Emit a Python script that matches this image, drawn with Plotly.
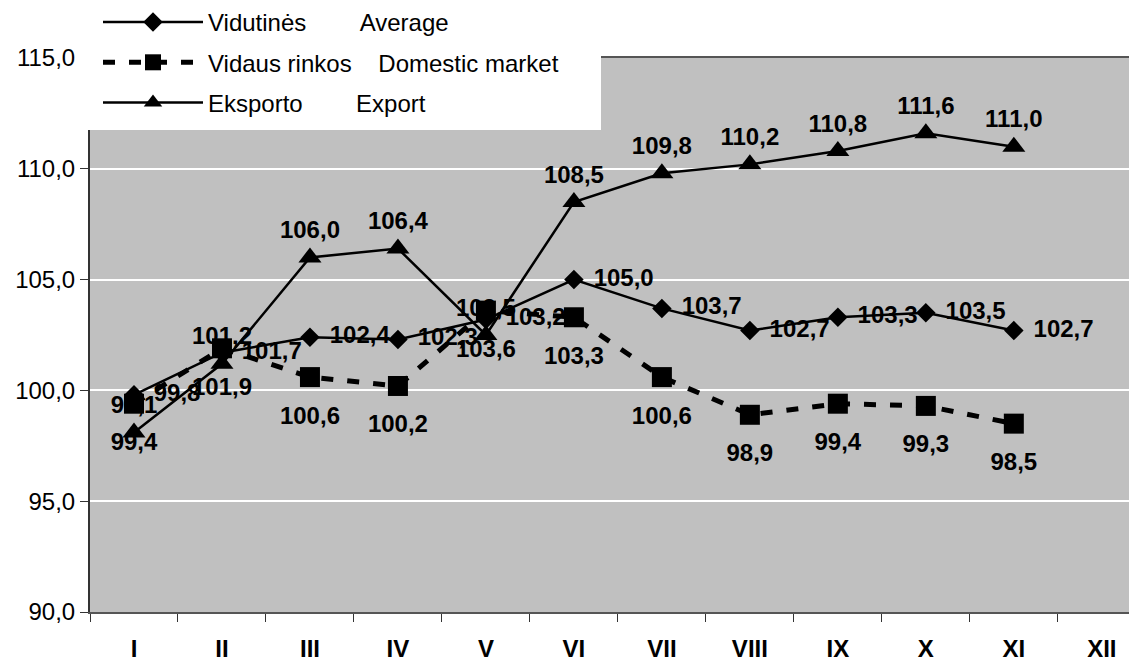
import plotly.graph_objects as go

# --- data ---
months = ["I", "II", "III", "IV", "V", "VI", "VII", "VIII", "IX", "X", "XI", "XII"]
average = [99.8, 101.7, 102.4, 102.3, 103.2, 105.0, 103.7, 102.7, 103.3, 103.5, 102.7, None]
domestic = [99.4, 101.9, 100.6, 100.2, 103.6, 103.3, 100.6, 98.9, 99.4, 99.3, 98.5, None]
export = [98.1, 101.2, 106.0, 106.4, 102.5, 108.5, 109.8, 110.2, 110.8, 111.6, 111.0, None]

FONT = "Liberation Sans, Arial, sans-serif"
NB = "\u00a0"
LABEL = dict(size=24, color="black", weight="bold")

# page body adds an 8px offset, so the figure is sized to the remaining window
W, H = 1129, 653
L, T, B = 82, 50, 49
PW, PH = W - L, H - T - B

fig = go.Figure()

# export drawn first so the other series sit on top of its labels
fig.add_trace(go.Scatter(
    x=months, y=export,
    name="Eksporto" + NB * 8 + "Export",
    mode="lines+markers+text",
    line=dict(color="black", width=2.5),
    marker=dict(symbol="triangle-up", size=20, color="black"),
    texttemplate="%{y:.1f}", textposition="top center", textfont=LABEL,
    legendrank=3, legendgroup="c",
))

fig.add_trace(go.Scatter(
    x=months, y=average,
    name="Vidutinės" + NB * 8 + "Average",
    mode="lines+markers",
    line=dict(color="black", width=2.5),
    marker=dict(symbol="diamond", size=15, color="black"),
    legendrank=1, legendgroup="a",
))
# labels of the average series, pushed a bit further right
fig.add_trace(go.Scatter(
    x=months, y=average, mode="markers+text",
    marker=dict(size=30, opacity=0),
    texttemplate="%{y:.1f}", textposition="middle right", textfont=LABEL,
    showlegend=False, hoverinfo="skip",
))

fig.add_trace(go.Scatter(
    x=months, y=domestic,
    name="Vidaus rinkos" + NB * 4 + "Domestic market",
    mode="lines+markers",
    line=dict(color="black", width=5, dash="12px,14px"),
    marker=dict(symbol="square", size=20, color="black"),
    legendrank=2, legendgroup="b",
))
# labels of the domestic series, a little lower than the default
fig.add_trace(go.Scatter(
    x=months, y=domestic, mode="markers+text",
    marker=dict(size=44, opacity=0),
    texttemplate="%{y:.1f}", textposition="bottom center", textfont=LABEL,
    showlegend=False, hoverinfo="skip",
))

fig.update_layout(
    width=W, height=H,
    margin=dict(l=L, r=0, t=T, b=B, autoexpand=False),
    paper_bgcolor="white",
    plot_bgcolor="#C0C0C0",
    separators=", ",
    font=dict(family=FONT, size=24, color="black"),
    showlegend=True,
    legend=dict(
        xref="container", yref="paper",
        x=90 / W, y=(PH + T + 8) / PH, xanchor="left", yanchor="top",
        bgcolor="rgba(0,0,0,0)", borderwidth=0,
        itemwidth=100, tracegroupgap=6,
        font=dict(family=FONT, size=24, color="black"),
    ),
    xaxis=dict(
        type="category", categoryorder="array", categoryarray=months,
        range=[-0.5, 11.4],
        showgrid=False, zeroline=False,
        showline=True, linecolor="#555555", linewidth=2, mirror=True,
        ticks="outside", tickson="boundaries", ticklen=8, tickcolor="#333333",
        tickangle=0,
        tickfont=dict(family=FONT, size=24, color="black", weight="bold"),
        ticklabelstandoff=14,
    ),
    yaxis=dict(
        range=[90, 115], dtick=5, tickformat=".1f",
        showgrid=True, gridcolor="white", gridwidth=1.5,
        zeroline=False,
        showline=True, linecolor="#333333", linewidth=2,
        ticks="outside", ticklen=8, tickcolor="#333333",
        tickfont=dict(family=FONT, size=24, color="black"),
    ),
    shapes=[
        # white legend panel overlapping the top-left of the plot area
        dict(type="rect", xref="paper", yref="paper",
             x0=-12 / PW, x1=(593 - L) / PW,
             y0=(PH + T - 122) / PH, y1=(PH + T + 10) / PH,
             fillcolor="white", line=dict(width=0), layer="above"),
    ],
)

fig.write_html("out.html")
